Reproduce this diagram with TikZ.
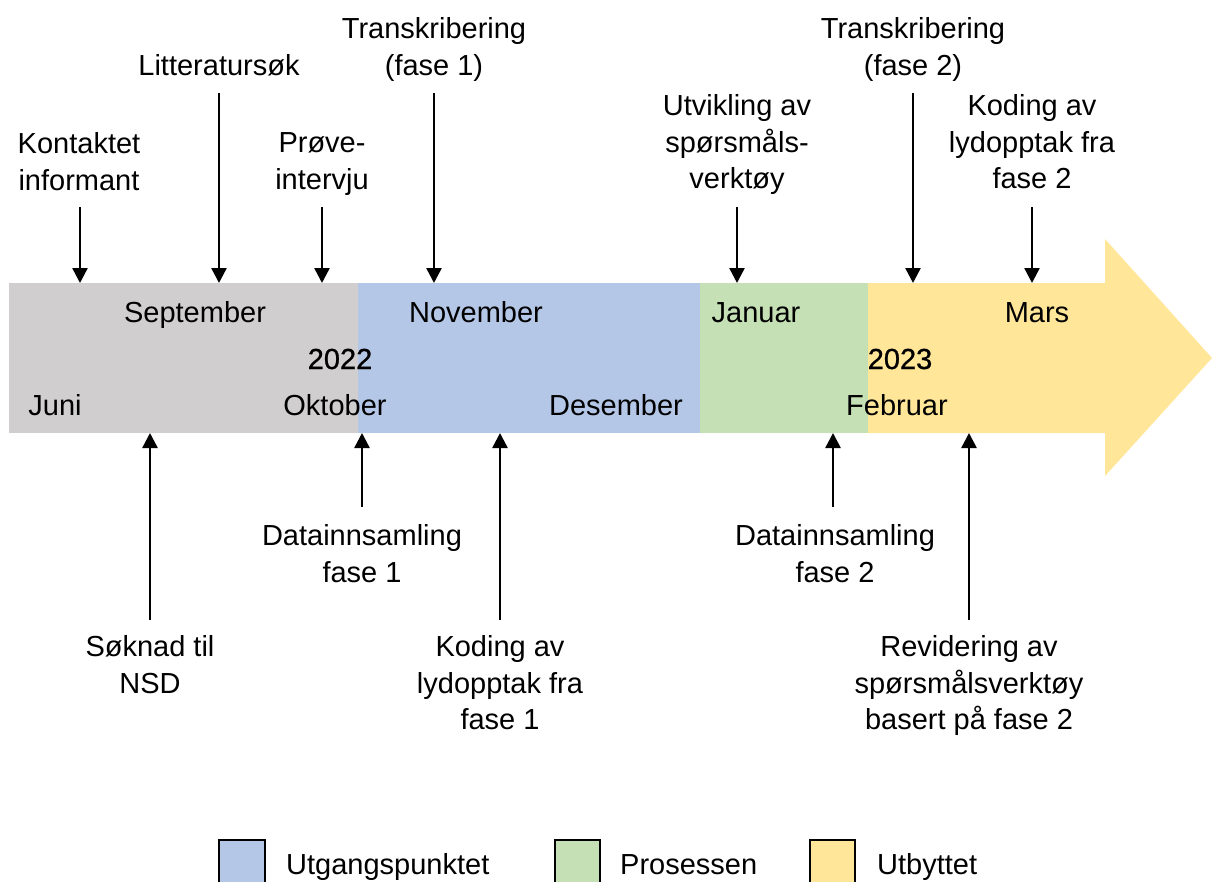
\documentclass[tikz,border=0pt]{standalone}
\usepackage{fontspec}
\setmainfont{Liberation Sans}
\newfontfamily\yearfont[FakeBold=0.8]{Liberation Sans}
\usetikzlibrary{arrows.meta}
\definecolor{phgray}{HTML}{D0CECE}
\definecolor{phblue}{HTML}{B4C7E7}
\definecolor{phgreen}{HTML}{C5E0B4}
\definecolor{phyellow}{HTML}{FFE699}
\tikzset{
  lbl/.style={font=\fontsize{29}{36.5}\selectfont, align=center, inner sep=0pt, anchor=north},
  month/.style={font=\fontsize{29}{36}\selectfont, inner sep=0pt, anchor=base},
  yr/.style={font=\fontsize{29}{36}\yearfont, inner sep=0pt, anchor=base},
  legtxt/.style={font=\fontsize{29}{36}\selectfont, inner sep=0pt, anchor=base west},
  legbox/.style={draw=black, line width=2.5pt},
  ev/.style={line width=2.5pt, -{Triangle[width=15pt,length=15pt]}},
}
\begin{document}
\begin{tikzpicture}[x=1pt, y=-1pt]
\useasboundingbox (0,0) rectangle (1212,881);

% time bar, one segment per phase
\fill[phgray]  (9,283) rectangle (358,433);
\fill[phblue]  (358,283) rectangle (700,433);
\fill[phgreen] (700,283) rectangle (868,433);
\fill[phyellow] (868,283) -- (1105,283) -- (1105,239) -- (1212,358)
  -- (1105,476) -- (1105,433) -- (868,433) -- cycle;
\coordinate (bartop) at (0,283);
\coordinate (barbot) at (0,433);

% months and years
\node[month] (sep) at (195,322) {September};
\node[month] (nov) at (476,322) {November};
\node[month] (jan) at (756,322) {Januar};
\node[month] (mar) at (1037,322) {Mars};
\node[yr] (y22) at (340,369) {2022};
\node[yr] (y23) at (900,369) {2023};
\node[month] (jun) at (55,415) {Juni};
\node[month] (okt) at (335,415) {Oktober};
\node[month] (des) at (616,415) {Desember};
\node[month] (feb) at (897,415) {Februar};

% events above the bar
\node[lbl] (kont) at (79,132.5) {Kontaktet\\informant};
\node[lbl] (litt) at (219,54.5) {Litteratursøk};
\node[lbl] (prove) at (322,132.5) {Prøve-\\intervju};
\node[lbl] (tr1) at (434,17.5) {Transkribering\\(fase 1)};
\node[lbl] (utv) at (737,94.5) {Utvikling av\\spørsmåls-\\verktøy};
\node[lbl] (tr2) at (913,17.5) {Transkribering\\(fase 2)};
\node[lbl] (kod2) at (1032,94.5) {Koding av\\lydopptak fra\\fase 2};

\coordinate (kont-t) at (80,207);
\coordinate (litt-t) at (219,93);
\coordinate (prove-t) at (322,207);
\coordinate (tr1-t) at (434,93);
\coordinate (utv-t) at (737,207);
\coordinate (tr2-t) at (913,93);
\coordinate (kod2-t) at (1032,207);
\foreach \e in {kont,litt,prove,tr1,utv,tr2,kod2}
  \draw[ev] (\e-t) -- (\e-t |- bartop);

% events below the bar
\node[lbl] (sok) at (150,635.5) {Søknad til\\NSD};
\node[lbl] (dat1) at (362,524.5) {Datainnsamling\\fase 1};
\node[lbl] (kod1) at (500,635.5) {Koding av\\lydopptak fra\\fase 1};
\node[lbl] (dat2) at (835,524.5) {Datainnsamling\\fase 2};
\node[lbl] (rev) at (969,635.5) {Revidering av\\spørsmålsverktøy\\basert på fase 2};

\coordinate (sok-t) at (150,620);
\coordinate (dat1-t) at (362,507);
\coordinate (kod1-t) at (500,620);
\coordinate (dat2-t) at (833,507);
\coordinate (rev-t) at (969,620);
\foreach \e in {sok,dat1,kod1,dat2,rev}
  \draw[ev] (\e-t) -- (\e-t |- barbot);

% legend
\draw[legbox, fill=phblue]   (219,840) rectangle (265,886);
\node[legtxt] (lg1) at (286,874) {Utgangspunktet};
\draw[legbox, fill=phgreen]  (555,840) rectangle (600,886);
\node[legtxt] (lg2) at (620,874) {Prosessen};
\draw[legbox, fill=phyellow] (810,840) rectangle (855,886);
\node[legtxt] (lg3) at (877,874) {Utbyttet};
\end{tikzpicture}
\end{document}
